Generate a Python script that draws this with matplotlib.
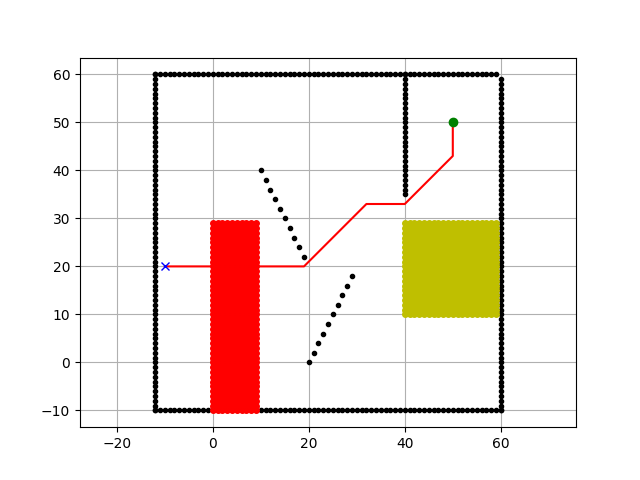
import numpy as np
import matplotlib.pyplot as plt

# walls
bottom_x = list(range(-12, 61)); bottom_y = [-10]*len(bottom_x)
top_x = list(range(-12, 60)); top_y = [60]*len(top_x)
left_y = list(range(-10, 61)); left_x = [-12]*len(left_y)
right_y = list(range(-10, 60)); right_x = [60]*len(right_y)
inner_y = list(range(35, 61)); inner_x = [40]*len(inner_y)
diag1_x = [10, 11, 12, 13, 14, 15, 16, 17, 18, 19]
diag1_y = [40, 38, 36, 34, 32, 30, 28, 26, 24, 22]
diag2_x = [20, 21, 22, 23, 24, 25, 26, 27, 28, 29]
diag2_y = [0, 2, 4, 6, 8, 10, 12, 14, 16, 18]

red_x_range = (0, 10); red_y_range = (-10, 30)
yel_x_range = (40, 60); yel_y_range = (10, 30)

path_x = [-10, 19, 32, 40, 50, 50]
path_y = [20, 20, 33, 33, 43, 50]
start = (-10, 20); goal = (50, 50)

fig = plt.figure(figsize=(6.4, 4.8), dpi=100)
ox = bottom_x + top_x + left_x + right_x + inner_x + diag1_x + diag2_x
oy = bottom_y + top_y + left_y + right_y + inner_y + diag1_y + diag2_y
plt.plot(ox, oy, ".k")

rx, ry = np.meshgrid(np.arange(red_x_range[0], red_x_range[1]), np.arange(red_y_range[0], red_y_range[1]))
plt.plot(rx.ravel(), ry.ravel(), "or", markersize=4)
yx, yy = np.meshgrid(np.arange(yel_x_range[0], yel_x_range[1]), np.arange(yel_y_range[0], yel_y_range[1]))
plt.plot(yx.ravel(), yy.ravel(), "oy", markersize=4)

plt.plot(path_x, path_y, "-r")
plt.plot(start[0], start[1], "xb")
plt.plot(goal[0], goal[1], "og")
plt.grid(True)
plt.axis("equal")
plt.savefig("out.png")
